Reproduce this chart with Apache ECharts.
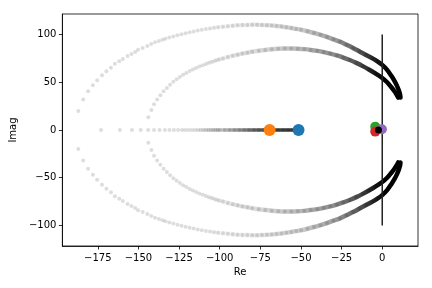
<!DOCTYPE html>
<html><head><meta charset="utf-8">
<script src="https://cdn.jsdelivr.net/npm/echarts@6/dist/echarts.min.js"></script>
<style>html,body{margin:0;padding:0;background:#fff}#c{width:432px;height:288px}</style>
</head><body><div id="c"></div>
<script>
// Root locus branches (Re, Imag)
const outerUpper = [[-187,20],[-184,32],[-181,40.5],[-178,47],[-175.4,52],[-172.4,57.3],[-169.7,61.5],[-166.9,65.2],[-164.5,69.4],[-161.8,72],[-159.6,74.3],[-156.7,77.5],[-154.3,79.6],[-152,81.7],[-150.2,84],[-147.4,86],[-144.5,88],[-142.1,90],[-139.8,91.8],[-137.4,93.2],[-135.2,94.6],[-133.4,95.6],[-131,96.8],[-128.5,98],[-126,99.2],[-123.5,100.3],[-121,101.3],[-118.5,102.3],[-116,103.2],[-113.5,104.1],[-111,104.9],[-108.5,105.7],[-106,106.4],[-103.5,107],[-101,107.6],[-98,108.2],[-95,108.7],[-92,109.2],[-89,109.6],[-86,109.9],[-83,110.1],[-80,110.2],[-77,110.2],[-74,110.1],[-71,109.8],[-68,109.4],[-65,108.9],[-62,108.3],[-59,107.6],[-56,106.8],[-53,105.9],[-50,105],[-46,103.4],[-42,101.6],[-38,99.7],[-34,97.5],[-30,95],[-26,92.5],[-22,89.3],[-18,86],[-14,82.3],[-10,78.6],[-6,75],[-3,71.9],[0,68.2],[3,63],[5.5,57],[7.5,51.5],[9,46.5],[10.2,41.5],[11,37],[11.2,34]];
const outerLower = [[-187,-20],[-184,-32],[-181,-40.5],[-178,-47],[-175.4,-52],[-172.4,-57.3],[-169.7,-61.5],[-166.9,-65.2],[-164.5,-69.4],[-161.8,-72],[-159.6,-74.3],[-156.7,-77.5],[-154.3,-79.6],[-152,-81.7],[-150.2,-84],[-147.4,-86],[-144.5,-88],[-142.1,-90],[-139.8,-91.8],[-137.4,-93.2],[-135.2,-94.6],[-133.4,-95.6],[-131,-96.8],[-128.5,-98],[-126,-99.2],[-123.5,-100.3],[-121,-101.3],[-118.5,-102.3],[-116,-103.2],[-113.5,-104.1],[-111,-104.9],[-108.5,-105.7],[-106,-106.4],[-103.5,-107],[-101,-107.6],[-98,-108.2],[-95,-108.7],[-92,-109.2],[-89,-109.6],[-86,-109.9],[-83,-110.1],[-80,-110.2],[-77,-110.2],[-74,-110.1],[-71,-109.8],[-68,-109.4],[-65,-108.9],[-62,-108.3],[-59,-107.6],[-56,-106.8],[-53,-105.9],[-50,-105],[-46,-103.4],[-42,-101.6],[-38,-99.7],[-34,-97.5],[-30,-95],[-26,-92.5],[-22,-89.3],[-18,-86],[-14,-82.3],[-10,-78.6],[-6,-75],[-3,-71.9],[0,-68.2],[3,-63],[5.5,-57],[7.5,-51.5],[9,-46.5],[10.2,-41.5],[11,-37],[11.2,-34]];
const innerUpper = [[-143.9,13.3],[-142,21],[-140.4,27],[-138.5,32],[-136.5,36.5],[-134.5,40.5],[-132.5,44],[-130.5,47.5],[-128.5,50.5],[-126.5,53.2],[-124.5,55.6],[-122.5,57.8],[-120.5,59.8],[-118.5,61.7],[-116.5,63.4],[-114.5,65],[-112.5,66.5],[-110.5,67.9],[-108.5,69.2],[-106.5,70.4],[-104.5,71.6],[-102.5,72.7],[-100.5,73.8],[-98,75],[-95,76.4],[-92,77.7],[-89,78.9],[-86,80],[-83,81],[-80,81.9],[-76,82.9],[-72,83.8],[-68,84.5],[-64,85],[-60,85.3],[-56,85.4],[-52,85.2],[-48,84.7],[-44,83.9],[-40,82.9],[-36,81.6],[-32,80],[-28,78.1],[-24,75.9],[-20,73.3],[-16,70.3],[-12,66.9],[-8,63.1],[-4,59],[0,54.5],[3,50],[5.5,45],[7.5,40.5],[9,36.5],[9.8,34]];
const innerLower = [[-143.9,-13.3],[-142,-21],[-140.4,-27],[-138.5,-32],[-136.5,-36.5],[-134.5,-40.5],[-132.5,-44],[-130.5,-47.5],[-128.5,-50.5],[-126.5,-53.2],[-124.5,-55.6],[-122.5,-57.8],[-120.5,-59.8],[-118.5,-61.7],[-116.5,-63.4],[-114.5,-65],[-112.5,-66.5],[-110.5,-67.9],[-108.5,-69.2],[-106.5,-70.4],[-104.5,-71.6],[-102.5,-72.7],[-100.5,-73.8],[-98,-75],[-95,-76.4],[-92,-77.7],[-89,-78.9],[-86,-80],[-83,-81],[-80,-81.9],[-76,-82.9],[-72,-83.8],[-68,-84.5],[-64,-85],[-60,-85.3],[-56,-85.4],[-52,-85.2],[-48,-84.7],[-44,-83.9],[-40,-82.9],[-36,-81.6],[-32,-80],[-28,-78.1],[-24,-75.9],[-20,-73.3],[-16,-70.3],[-12,-66.9],[-8,-63.1],[-4,-59],[0,-54.5],[3,-50],[5.5,-45],[7.5,-40.5],[9,-36.5],[9.8,-34]];
const realBranch = [[-173,0],[-161.4,0],[-154,0],[-148.6,0],[-144,0],[-140.4,0],[-137,0],[-133.7,0],[-130.9,0],[-128.2,0],[-125.6,0],[-123.2,0],[-121.2,0],[-119.1,0],[-117.1,0],[-115.2,0],[-113.4,0],[-111.7,0],[-110,0],[-108.4,0],[-106.9,0],[-105.4,0],[-104,0],[-102.6,0],[-101.3,0],[-100,0],[-97,0],[-94,0],[-91,0],[-88,0],[-85,0],[-82,0],[-79,0],[-76,0],[-73,0],[-70,0],[-67,0],[-64,0],[-61,0],[-58,0],[-55,0],[-52,0]];
const imagAxisLine = [[0,-100],[0,100]];
const markerPoints = [
  {name:'p1', value:[-51.5,0], color:'#1f77b4', size:12},
  {name:'p2', value:[-69.3,0], color:'#ff7f0e', size:12},
  {name:'p3', value:[-4.3,3.5], color:'#2ca02c', size:10},
  {name:'p4', value:[-4.3,-1.7], color:'#d62728', size:10},
  {name:'p5', value:[-0.2,0.7], color:'#9467bd', size:10},
  {name:'p6', value:[-2.3,0], color:'#000000', size:7}
];
const xTicks = [-175,-150,-125,-100,-75,-50,-25,0];
const yTicks = [-100,-50,0,50,100];

const grad = (stops) => new echarts.graphic.LinearGradient(0,0,1,0, stops.map(s=>({offset:s[0], color:'rgba(0,0,0,'+s[1]+')'})));
const outerGrad = [[0,0],[0.4,0],[0.44,0.03],[0.54,0.08],[0.6,0.12],[0.69,0.2],[0.79,0.38],[0.87,0.68],[0.92,0.9],[0.95,1],[1,1]];
const innerGrad = [[0,0],[0.22,0],[0.29,0.05],[0.42,0.13],[0.52,0.2],[0.61,0.28],[0.74,0.45],[0.84,0.72],[0.9,0.92],[0.94,1],[1,1]];
const realGrad = [[0,0],[0.48,0],[0.6,0.2],[0.69,0.4],[0.77,0.6],[0.85,0.72],[1,0.8]];

const dots = (d) => ({type:'scatter', data:d, symbol:'circle', symbolSize:4, itemStyle:{color:'rgba(0,0,0,0.17)'}, silent:true, z:2});
const path = (d, g, w) => ({type:'line', data:d, symbol:'none', smooth:0.3, lineStyle:{width:w, color:grad(g), cap:'round', join:'round'}, silent:true, z:3});
const minus = v => String(v).replace('-', '\u2212');
const font = {fontFamily:'DejaVu Sans', fontSize:10, color:'#000'};

const series = [
  dots(outerUpper), dots(outerLower), dots(innerUpper), dots(innerLower), dots(realBranch),
  path(outerUpper, outerGrad, 4.5), path(outerLower, outerGrad, 4.5),
  path(innerUpper, innerGrad, 4.5), path(innerLower, innerGrad, 4.5),
  path(realBranch, realGrad, 3.5),
  {type:'line', data:imagAxisLine, symbol:'none', lineStyle:{color:'#222', width:1.5}, z:4, silent:true}
];
markerPoints.forEach(m => series.push({type:'scatter', data:[m.value], symbolSize:m.size, itemStyle:{color:m.color, opacity:1}, z:5, silent:true}));

const chart = echarts.init(document.getElementById('c'), null, {renderer:'canvas'});
chart.setOption({
  animation:false,
  backgroundColor:'#fff',
  grid:{left:59, right:14, top:14, bottom:42, show:true, borderColor:'#000', borderWidth:0.8, backgroundColor:'transparent'},
  xAxis:{type:'value', min:-196.8, max:22, name:'Re', nameLocation:'middle', nameGap:20, nameTextStyle:font,
    splitLine:{show:false},
    axisLine:{show:true, onZero:false, lineStyle:{color:'#000', width:0.8}},
    axisTick:{show:true, length:3.5, lineStyle:{color:'#000', width:0.8}, customValues:xTicks},
    axisLabel:Object.assign({margin:7, customValues:xTicks, formatter:minus}, font)},
  yAxis:{type:'value', min:-121.5, max:121.5, name:'Imag', nameLocation:'middle', nameGap:33, nameTextStyle:font,
    splitLine:{show:false},
    axisLine:{show:true, onZero:false, lineStyle:{color:'#000', width:0.8}},
    axisTick:{show:true, length:3.5, lineStyle:{color:'#000', width:0.8}, customValues:yTicks},
    axisLabel:Object.assign({margin:6, customValues:yTicks, formatter:minus}, font)},
  series: series
});
</script></body></html>
